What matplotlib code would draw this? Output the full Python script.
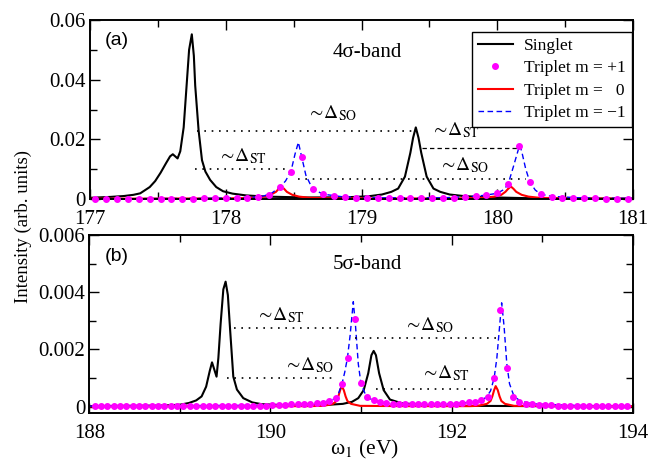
import numpy as np
import matplotlib
matplotlib.use("Agg")
import matplotlib.pyplot as plt
from matplotlib.ticker import MultipleLocator, FuncFormatter

plt.rcParams['font.family'] = 'serif'
plt.rcParams['font.serif'] = ['Liberation Serif', 'DejaVu Serif']
plt.rcParams['mathtext.fontset'] = 'stix'

# ---- 4sigma band (panel a) ----
sing_a_x = [177.0, 177.15, 177.25, 177.32, 177.37, 177.44, 177.48, 177.52, 177.56, 177.59,
            177.61, 177.63, 177.645, 177.665, 177.69, 177.71, 177.73, 177.75, 177.765, 177.775,
            177.80, 177.825, 177.85, 177.885, 177.93, 177.98, 178.05, 178.15, 178.3, 178.6,
            178.9, 179.05, 179.15, 179.22, 179.27, 179.32, 179.36, 179.38, 179.40, 179.42,
            179.44, 179.48, 179.53, 179.58, 179.65, 179.75, 179.9, 180.2, 180.6, 181.0]
sing_a_y = [0.0004, 0.0007, 0.0010, 0.0014, 0.0019, 0.0040, 0.0060, 0.0088, 0.0120, 0.0143,
            0.0150, 0.0142, 0.0136, 0.0160, 0.0240, 0.0370, 0.0500, 0.0552, 0.0480, 0.0380,
            0.0230, 0.0130, 0.0092, 0.0064, 0.0040, 0.0026, 0.0018, 0.0012, 0.0008, 0.0005,
            0.0006, 0.0009, 0.0015, 0.0024, 0.0035, 0.0075, 0.0155, 0.0205, 0.0240, 0.0205,
            0.0155, 0.0075, 0.0035, 0.0024, 0.0015, 0.0010, 0.0006, 0.0003, 0.0002, 0.0001]

m0_a_x = [177.0, 178.0, 178.2, 178.28, 178.33, 178.37, 178.39, 178.41, 178.43, 178.45,
          178.49, 178.54, 178.62, 178.8, 179.7, 179.9, 179.98, 180.03, 180.06, 180.08,
          180.10, 180.12, 180.14, 180.18, 180.23, 180.31, 180.5, 181.0]
m0_a_y = [0.0001, 0.0002, 0.0004, 0.0008, 0.0014, 0.0024, 0.0034, 0.0042, 0.0034, 0.0024,
          0.0014, 0.0008, 0.0004, 0.0002, 0.0002, 0.0004, 0.0008, 0.0014, 0.0024, 0.0034,
          0.0042, 0.0034, 0.0024, 0.0014, 0.0008, 0.0004, 0.0002, 0.0001]

mm1_a_x = [177.0, 177.8, 178.1, 178.2, 178.28, 178.34, 178.40, 178.44, 178.48, 178.51,
           178.535, 178.56, 178.59, 178.64, 178.72, 178.85, 179.1, 179.6, 179.8, 179.9,
           180.0, 180.05, 180.08, 180.12, 180.165, 180.18, 180.21, 180.24, 180.28, 180.32,
           180.4, 180.6, 181.0]
mm1_a_y = [0.0001, 0.0002, 0.0004, 0.0006, 0.0010, 0.0020, 0.0041, 0.0060, 0.0092, 0.0150,
           0.0190, 0.0140, 0.0080, 0.0033, 0.0016, 0.0008, 0.0004, 0.0004, 0.0008, 0.0012,
           0.0019, 0.0032, 0.0050, 0.0110, 0.0181, 0.0160, 0.0100, 0.0057, 0.0030, 0.0016,
           0.0009, 0.0004, 0.0002]

# m = +1 is sampled on a coarser grid (every 0.08 eV)
mp1_a_x = np.linspace(177.04, 180.96, 50)
mp1_a_y = [0.0001, 0.0001, 0.0001, 0.0001, 0.0001, 0.0001, 0.0001, 0.0001, 0.0001, 0.0001,
           0.0002, 0.0002, 0.0002, 0.0003, 0.0005, 0.0007, 0.0015, 0.0041, 0.0092, 0.0140,
           0.0033, 0.0016, 0.0009, 0.0006, 0.0004, 0.0004, 0.0003, 0.0003, 0.0003, 0.0003,
           0.0004, 0.0004, 0.0004, 0.0005, 0.0006, 0.0009, 0.0012, 0.0019, 0.0050, 0.0178,
           0.0057, 0.0016, 0.0008, 0.0005, 0.0003, 0.0002, 0.0002, 0.0001, 0.0001, 0.0001]

# ---- 5sigma band (panel b) ----
sing_b_x = [188.0, 188.8, 189.0, 189.1, 189.18, 189.24, 189.29, 189.33, 189.355, 189.38,
            189.405, 189.425, 189.45, 189.48, 189.505, 189.53, 189.555, 189.59, 189.63, 189.70,
            189.80, 189.9, 190.1, 190.4, 190.6, 190.8, 190.9, 190.97, 191.03, 191.08,
            191.115, 191.14, 191.165, 191.20, 191.25, 191.32, 191.45, 191.7, 192.2, 193.0,
            194.0]
sing_b_y = [0.00002, 0.00004, 0.00007, 0.00013, 0.00022, 0.00036, 0.00070, 0.00125, 0.00155, 0.00130,
            0.00105, 0.00170, 0.00290, 0.00410, 0.00437, 0.00390, 0.00268, 0.00105, 0.00060, 0.00030,
            0.00015, 0.00009, 0.00006, 0.00005, 0.00006, 0.00010, 0.00017, 0.00030, 0.00058, 0.00117,
            0.00180, 0.00195, 0.00180, 0.00117, 0.00058, 0.00025, 0.00012, 0.00006, 0.00003, 0.00002,
            0.00001]

m0_b_x = [188.0, 190.4, 190.59, 190.69, 190.73, 190.75, 190.77, 190.787, 190.81, 190.83,
          190.85, 190.89, 190.99, 191.5, 192.2, 192.29, 192.39, 192.43, 192.45, 192.47,
          192.487, 192.51, 192.53, 192.55, 192.59, 192.69, 194.0]
m0_b_y = [0.00001, 0.00002, 0.00003, 0.0001, 0.0002, 0.00036, 0.00058, 0.00072, 0.00058, 0.00036,
          0.0002, 0.0001, 0.00003, 0.00002, 0.00002, 0.00003, 0.0001, 0.0002, 0.00036, 0.00058,
          0.00072, 0.00058, 0.00036, 0.0002, 0.0001, 0.00003, 0.00001]

mm1_b_x = [188.0, 190.0, 190.4, 190.55, 190.65, 190.71, 190.75, 190.79, 190.82, 190.85,
           190.88, 190.915, 190.94, 190.97, 191.0, 191.05, 191.12, 191.3, 191.6, 192.0,
           192.2, 192.3, 192.38, 192.43, 192.47, 192.50, 192.53, 192.553, 192.58, 192.61,
           192.64, 192.69, 192.76, 192.9, 193.3, 194.0]
mm1_b_y = [0.00002, 0.00005, 0.0001, 0.00014, 0.0002, 0.00028, 0.00045, 0.0008, 0.0012, 0.0017,
           0.0025, 0.00367, 0.0028, 0.0015, 0.0008, 0.00042, 0.00024, 0.00012, 0.00008, 0.0001,
           0.00015, 0.0002, 0.00032, 0.00055, 0.0010, 0.0017, 0.0028, 0.00363, 0.0028, 0.0015,
           0.0008, 0.00036, 0.0002, 0.0001, 0.00005, 0.00002]

mp1_b_x = np.linspace(188.06, 193.94, 85)
mp1_b_y = [0.00002, 0.00002, 0.00002, 0.00002, 0.00002, 0.00002, 0.00002, 0.00002, 0.00002, 0.00002,
           0.00002, 0.00002, 0.00002, 0.00002, 0.00002, 0.00002, 0.00002, 0.00002, 0.00002, 0.00002,
           0.00003, 0.00003, 0.00003, 0.00003, 0.00003, 0.00003, 0.00003, 0.00003, 0.00005, 0.00006,
           0.00007, 0.00008, 0.00009, 0.0001, 0.00011, 0.00013, 0.00014, 0.0002, 0.0003, 0.0008,
           0.0017, 0.00305, 0.00082, 0.00035, 0.00022, 0.00016, 0.00013, 0.00011, 0.0001, 0.00009,
           0.00008, 0.00008, 0.00008, 0.00008, 0.00009, 0.00009, 0.0001, 0.00011, 0.00013, 0.00015,
           0.00018, 0.00023, 0.00035, 0.00099, 0.00338, 0.00134, 0.00035, 0.00018, 0.00011, 0.00008,
           0.00006, 0.00005, 0.00005, 0.00004, 0.00004, 0.00004, 0.00004, 0.00004, 0.00004, 0.00004,
           0.00004, 0.00003, 0.00003, 0.00003, 0.00003]

# splitting markers: (x start, x end, level)
gaps_a = [(177.786, 179.394, 0.0228), (177.77, 178.47, 0.00995), (178.534, 180.21, 0.0066)]
gap_st_a = (179.443, 180.155, 0.0170)   # drawn dashed
gaps_b = [(189.60, 190.88, 0.00276), (189.515, 190.74, 0.00100),
          (190.93, 192.52, 0.00239), (191.17, 192.44, 0.00061)]

labels = ["Singlet", "Triplet m = +1", "Triplet m =   0", "Triplet m = \u22121"]

SO = r'${\sim}\!\Delta_{\rm SO}$'
ST = r'${\sim}\!\Delta_{\rm ST}$'


def draw_spectra(ax, sx, sy, px, py, zx, zy, mx, my):
    ax.plot(sx, sy, color='black', lw=1.5, label=labels[0])
    ax.plot(px, py, 'o', color='magenta', ms=4, clip_on=False, label=labels[1], zorder=3)
    ax.plot(zx, zy, color='red', lw=1.5, label=labels[2])
    ax.plot(mx, my, color='blue', lw=1.0, ls=(0, (4, 2.5)), label=labels[3])


def style_axes(ax, xmaj, ymaj, ymin_step):
    ax.xaxis.set_major_locator(MultipleLocator(xmaj))
    ax.xaxis.set_minor_locator(MultipleLocator(xmaj / 2))
    ax.yaxis.set_major_locator(MultipleLocator(ymaj))
    ax.yaxis.set_minor_locator(MultipleLocator(ymin_step))
    ax.yaxis.set_major_formatter(FuncFormatter(
        lambda v, p: '0' if abs(v) < 1e-12 else '%g' % round(v, 6)))
    ax.tick_params(which='both', direction='in', top=True, right=True, labelsize=15)
    ax.tick_params(which='major', length=7, width=1.0)
    ax.tick_params(which='minor', length=5, width=1.0)
    ax.tick_params(axis='x', which='both', pad=8)
    ax.tick_params(axis='y', which='both', pad=3)
    for s in ax.spines.values():
        s.set_linewidth(1.4)


fig = plt.figure(figsize=(6.6, 4.66), dpi=100)
ax1 = fig.add_axes([90 / 660, 1 - 199 / 466, 543 / 660, 179 / 466])
ax2 = fig.add_axes([89.3 / 660, 1 - 413.3 / 466, 543.4 / 660, 178.3 / 466])

# panel (a)
draw_spectra(ax1, sing_a_x, sing_a_y, mp1_a_x, mp1_a_y, m0_a_x, m0_a_y, mm1_a_x, mm1_a_y)
for x0, x1, y in gaps_a:
    ax1.plot([x0, x1], [y, y], color='black', lw=1.2, ls=(0, (1, 3.4)))
ax1.plot([gap_st_a[0], gap_st_a[1]], [gap_st_a[2]] * 2, color='black', lw=0.9, ls=(0, (3.5, 2.5)))
ax1.set_xlim(177, 181)
ax1.set_ylim(0, 0.06)
style_axes(ax1, 1, 0.02, 0.01)
ax1.text(0.028, 0.883, '(a)', transform=ax1.transAxes, family='Liberation Sans',
         fontsize=14, va='center')
ax1.text(0.447, 0.816, '4\u03c3-band', transform=ax1.transAxes, fontsize=15, va='center')
ax1.text(178.6, 0.0271, SO, fontsize=14, va='baseline')
ax1.text(177.945, 0.0125, ST, fontsize=14, va='baseline')
ax1.text(179.515, 0.0215, ST, fontsize=14, va='baseline')
ax1.text(179.57, 0.00972, SO, fontsize=14, va='baseline')

leg = ax1.legend(loc='upper right', bbox_to_anchor=(0.998, 0.933), fancybox=False,
                 edgecolor='black', framealpha=1, fontsize=12.5, numpoints=1,
                 handlelength=2.0, handletextpad=0.65, labelspacing=0.35,
                 borderpad=0.35, borderaxespad=0)
leg.get_frame().set_linewidth(1.0)

# panel (b)
draw_spectra(ax2, sing_b_x, sing_b_y, mp1_b_x, mp1_b_y, m0_b_x, m0_b_y, mm1_b_x, mm1_b_y)
for x0, x1, y in gaps_b:
    ax2.plot([x0, x1], [y, y], color='black', lw=1.2, ls=(0, (1, 3.4)))
ax2.set_xlim(188, 194)
ax2.set_ylim(-0.00023, 0.006)
style_axes(ax2, 2, 0.002, 0.001)
ax2.xaxis.set_minor_locator(MultipleLocator(1))
ax2.text(0.028, 0.882, '(b)', transform=ax2.transAxes, family='Liberation Sans',
         fontsize=14, va='center')
ax2.text(0.447, 0.837, '5\u03c3-band', transform=ax2.transAxes, fontsize=15, va='center')
ax2.text(189.845, 0.00303, ST, fontsize=14, va='baseline')
ax2.text(190.155, 0.00128, SO, fontsize=14, va='baseline')
ax2.text(191.48, 0.00266, SO, fontsize=14, va='baseline')
ax2.text(191.665, 0.00099, ST, fontsize=14, va='baseline')

fig.text(0.036, 0.513, 'Intensity (arb. units)', rotation=90, ha='center', va='center',
         fontsize=13.5)
fig.text(0.552, 0.036, '\u03c9$_1$ (eV)', ha='center', va='center', fontsize=15.5)

fig.savefig('out.png', dpi=100)
